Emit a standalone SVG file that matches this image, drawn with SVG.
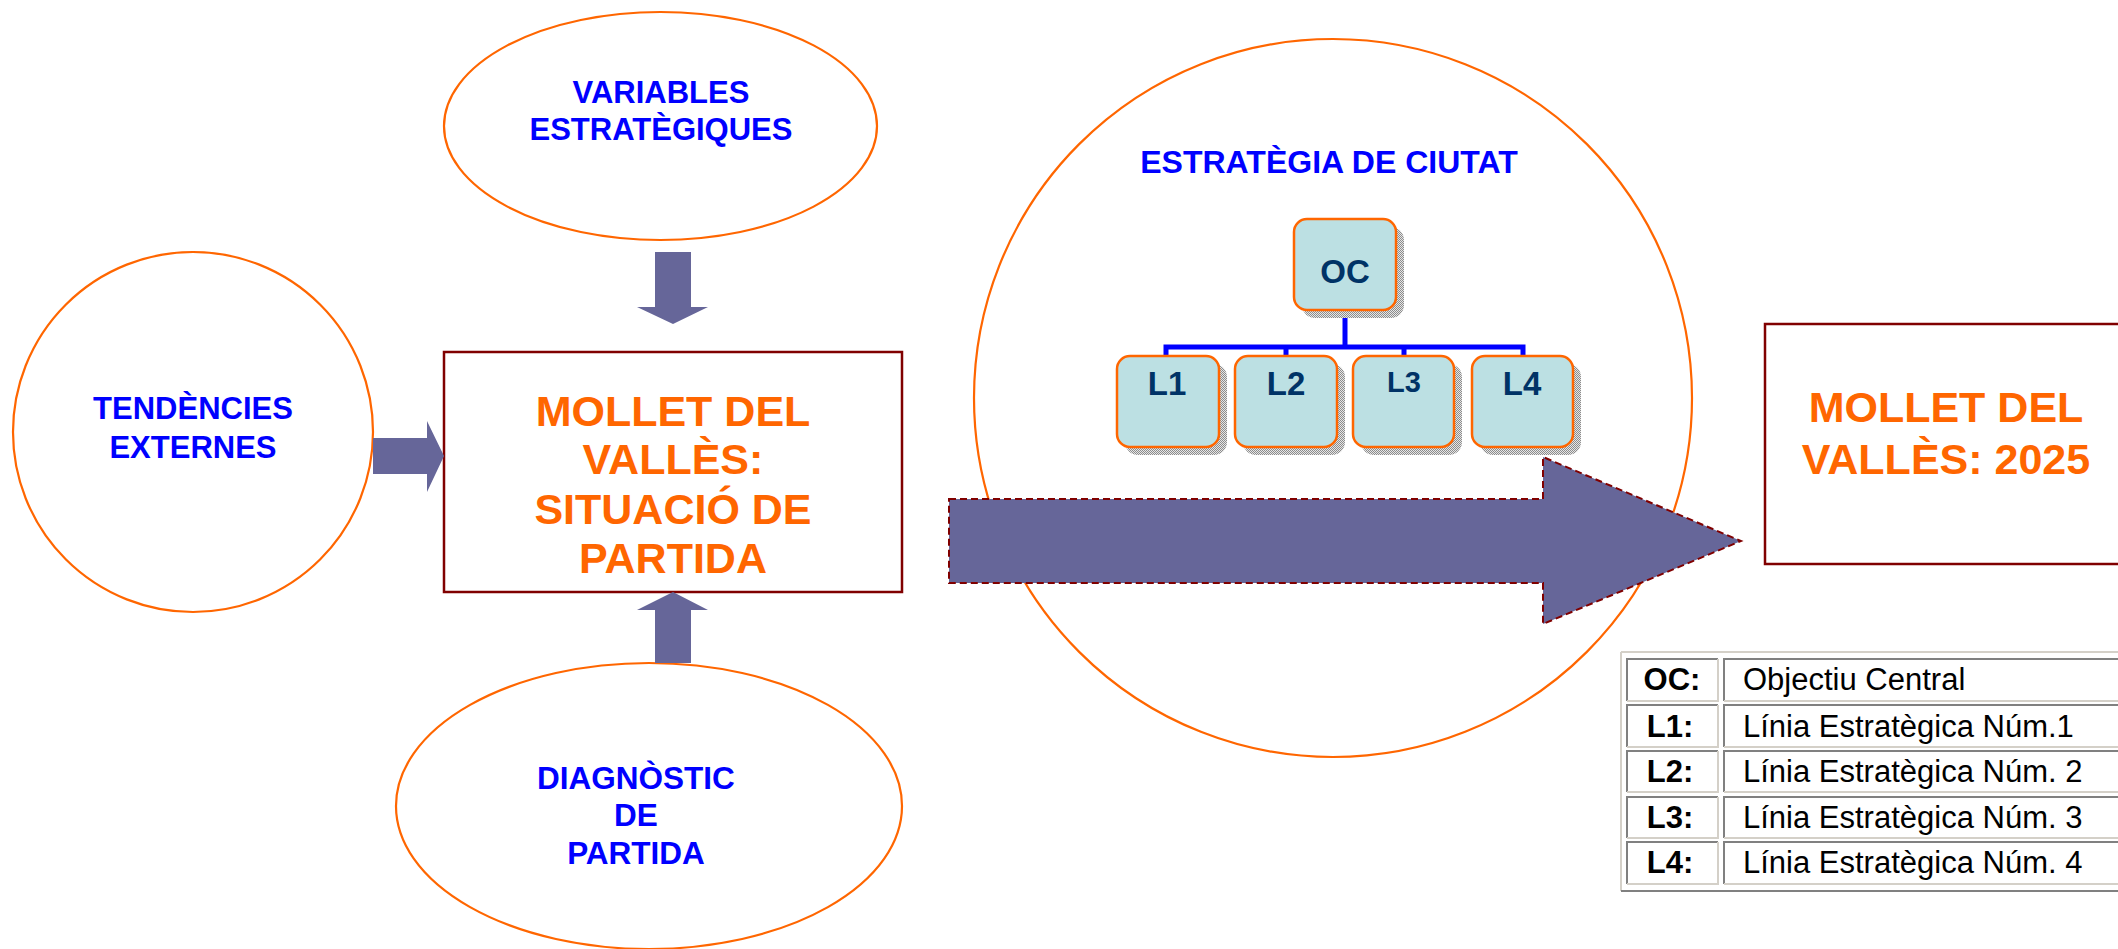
<svg xmlns="http://www.w3.org/2000/svg" width="2118" height="949" viewBox="0 0 2118 949">
  <style>
    .ell { fill: #fff; stroke: #FF6600; stroke-width: 2.2; }
    .lbl { font-family: "Liberation Sans", Arial, sans-serif; font-weight: bold; fill: #0000FF; text-anchor: middle; }
    .big { font-family: "Liberation Sans", Arial, sans-serif; font-weight: bold; fill: #FF6600; text-anchor: middle; font-size: 43px; }
    .box { fill: #fff; stroke: #800000; stroke-width: 2.5; }
    .arr { fill: #666699; }
    .org { fill: #BCE0E3; stroke: #FF6600; stroke-width: 2.5; }
    .shd { fill: url(#dots); }
    .orgt { font-family: "Liberation Sans", Arial, sans-serif; font-weight: bold; fill: #003366; text-anchor: middle; }
    .tree { stroke: #0000FF; stroke-width: 5; fill: none; }
    .cell { fill: #fff; }
    .dk { stroke: #808080; stroke-width: 2; }
    .lt { stroke: #D4D0C8; stroke-width: 2; }
    .tb { font-family: "Liberation Sans", Arial, sans-serif; font-size: 31px; fill: #000; }
  </style>
  <defs>
    <pattern id="dots" width="2" height="2" patternUnits="userSpaceOnUse">
      <rect width="2" height="2" fill="#E6E6E6"/>
      <rect width="1" height="1" fill="#8C8C8C"/>
      <rect x="1" y="1" width="1" height="1" fill="#8C8C8C"/>
    </pattern>
  </defs>
  <rect width="2118" height="949" fill="#fff"/>

  <g id="tendencies">
    <ellipse class="ell" cx="193" cy="432" rx="180" ry="180"/>
    <text class="lbl" font-size="31" x="193" y="419">TENDÈNCIES</text>
    <text class="lbl" font-size="31" x="193" y="458">EXTERNES</text>
  </g>

  <g id="variables">
    <ellipse class="ell" cx="660.5" cy="126" rx="216.5" ry="114"/>
    <text class="lbl" font-size="31" x="661" y="103">VARIABLES</text>
    <text class="lbl" font-size="31" x="661" y="140">ESTRATÈGIQUES</text>
  </g>

  <g id="diagnostic">
    <ellipse class="ell" cx="649" cy="806" rx="253" ry="143"/>
    <text class="lbl" font-size="31.5" x="636" y="789">DIAGNÒSTIC</text>
    <text class="lbl" font-size="31.5" x="636" y="826">DE</text>
    <text class="lbl" font-size="31.5" x="636" y="864">PARTIDA</text>
  </g>

  <g id="situacio">
    <rect class="box" x="444" y="352" width="458" height="240"/>
    <text class="big" x="673" y="426">MOLLET DEL</text>
    <text class="big" x="673" y="474">VALLÈS:</text>
    <text class="big" x="673" y="524">SITUACIÓ DE</text>
    <text class="big" x="673" y="573">PARTIDA</text>
  </g>

  <g id="estrategia">
    <circle class="ell" cx="1333" cy="398" r="359"/>
    <text class="lbl" font-size="32" x="1329" y="173">ESTRATÈGIA DE CIUTAT</text>
  </g>

  <g id="big-arrow">
    <path d="M949,499 H1543 V457 L1741,541 L1543,624 V583 H949 Z" fill="#666699" stroke="#800000" stroke-width="2" stroke-dasharray="7 4"/>
  </g>

  <g id="connectors">
    <path class="arr" d="M373,438 H427 V421 L444,456 L427,492 V474 H373 Z"/>
    <path class="arr" d="M655,252 H691 V307 H708 L673,324 L637,307 H655 Z"/>
    <path class="arr" d="M655,663 H691 V610 H708 L673,592 L637,610 H655 Z"/>
    <path class="tree" d="M1345,310 V347 M1166,356 V347 H1523 V356 M1286,347 V356 M1404,347 V356"/>
  </g>

  <g id="oc">
    <rect class="shd" x="1302" y="227" width="102" height="91" rx="13"/>
    <rect class="org" x="1294" y="219" width="102" height="91" rx="13"/>
    <text class="orgt" font-size="33" x="1345" y="283">OC</text>
  </g>
  <g id="l1">
    <rect class="shd" x="1125" y="364" width="102" height="91" rx="13"/>
    <rect class="org" x="1117" y="356" width="102" height="91" rx="13"/>
    <text class="orgt" font-size="33" x="1167" y="395">L1</text>
  </g>
  <g id="l2">
    <rect class="shd" x="1243" y="364" width="102" height="91" rx="13"/>
    <rect class="org" x="1235" y="356" width="102" height="91" rx="13"/>
    <text class="orgt" font-size="33" x="1286" y="395">L2</text>
  </g>
  <g id="l3">
    <rect class="shd" x="1361" y="364" width="101" height="91" rx="13"/>
    <rect class="org" x="1353" y="356" width="101" height="91" rx="13"/>
    <text class="orgt" font-size="29" x="1404" y="392">L3</text>
  </g>
  <g id="l4">
    <rect class="shd" x="1480" y="364" width="101" height="91" rx="13"/>
    <rect class="org" x="1472" y="356" width="101" height="91" rx="13"/>
    <text class="orgt" font-size="33" x="1522" y="395">L4</text>
  </g>

  <g id="mollet-2025">
    <rect class="box" x="1765" y="324" width="362" height="240"/>
    <text class="big" x="1946" y="422">MOLLET DEL</text>
    <text class="big" x="1946" y="474">VALLÈS: 2025</text>
  </g>

  <g id="legend">
    <rect x="1621" y="652" width="510" height="239" fill="#fff"/>
    <line class="lt" x1="1621" y1="652" x2="2118" y2="652"/>
    <line class="lt" x1="1621" y1="652" x2="1621" y2="891"/>
    <line class="dk" x1="1621" y1="891" x2="2118" y2="891"/>
    <g id="row-oc">
      <path class="dk" d="M1627,701 V659 H1718" fill="none"/>
      <path class="lt" d="M1718,659 V701 H1627" fill="none"/>
      <path class="dk" d="M1724,701 V659 H2118" fill="none"/>
      <line class="lt" x1="1724" y1="701" x2="2118" y2="701"/>
      <text class="tb" font-weight="bold" text-anchor="middle" x="1672" y="690">OC:</text>
      <text class="tb" x="1743" y="690">Objectiu Central</text>
    </g>
    <g id="row-l1">
      <path class="dk" d="M1627,747 V705 H1718" fill="none"/>
      <path class="lt" d="M1718,705 V747 H1627" fill="none"/>
      <path class="dk" d="M1724,747 V705 H2118" fill="none"/>
      <line class="lt" x1="1724" y1="747" x2="2118" y2="747"/>
      <text class="tb" font-weight="bold" text-anchor="middle" x="1670" y="737">L1:</text>
      <text class="tb" x="1743" y="737">Línia Estratègica Núm.1</text>
    </g>
    <g id="row-l2">
      <path class="dk" d="M1627,792 V751 H1718" fill="none"/>
      <path class="lt" d="M1718,751 V792 H1627" fill="none"/>
      <path class="dk" d="M1724,792 V751 H2118" fill="none"/>
      <line class="lt" x1="1724" y1="792" x2="2118" y2="792"/>
      <text class="tb" font-weight="bold" text-anchor="middle" x="1670" y="782">L2:</text>
      <text class="tb" x="1743" y="782">Línia Estratègica Núm. 2</text>
    </g>
    <g id="row-l3">
      <path class="dk" d="M1627,838 V797 H1718" fill="none"/>
      <path class="lt" d="M1718,797 V838 H1627" fill="none"/>
      <path class="dk" d="M1724,838 V797 H2118" fill="none"/>
      <line class="lt" x1="1724" y1="838" x2="2118" y2="838"/>
      <text class="tb" font-weight="bold" text-anchor="middle" x="1670" y="828">L3:</text>
      <text class="tb" x="1743" y="828">Línia Estratègica Núm. 3</text>
    </g>
    <g id="row-l4">
      <path class="dk" d="M1627,884 V842 H1718" fill="none"/>
      <path class="lt" d="M1718,842 V884 H1627" fill="none"/>
      <path class="dk" d="M1724,884 V842 H2118" fill="none"/>
      <line class="lt" x1="1724" y1="884" x2="2118" y2="884"/>
      <text class="tb" font-weight="bold" text-anchor="middle" x="1670" y="873">L4:</text>
      <text class="tb" x="1743" y="873">Línia Estratègica Núm. 4</text>
    </g>
  </g>
</svg>
